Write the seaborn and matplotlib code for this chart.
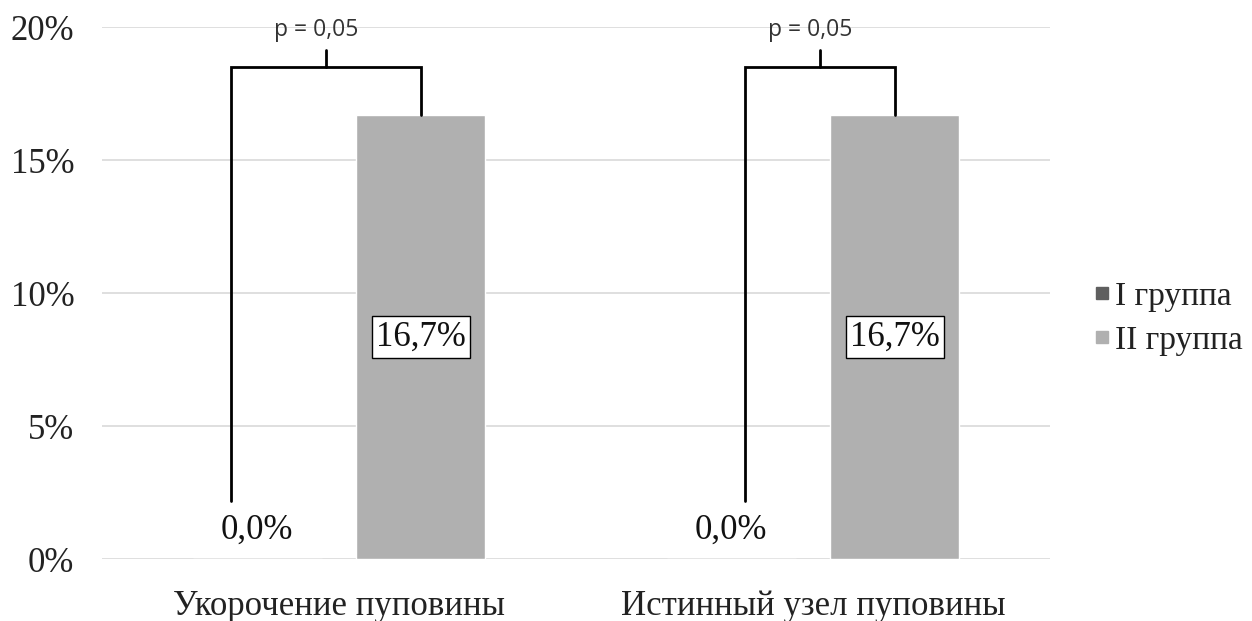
import numpy as np
import pandas as pd
import matplotlib
matplotlib.use("Agg")
import matplotlib.pyplot as plt
from matplotlib.lines import Line2D
from matplotlib.font_manager import FontProperties
from matplotlib.ticker import FuncFormatter
import seaborn as sns

# datos del gráfico
categorias = ["Укорочение пуповины", "Истинный узел пуповины"]
grupos = ["I группа", "II группа"]
valores_I = [0.0, 0.0]
valores_II = [16.7, 16.7]
p_textos = ["p = 0,05", "p = 0,05"]
colores = ["#5f5f5f", "#b0b0b0"]

df = pd.DataFrame({
    "categoria": categorias * 2,
    "grupo": [grupos[0]] * len(categorias) + [grupos[1]] * len(categorias),
    "valor": valores_I + valores_II,
})

sns.set_theme(style="white")
serif = ["Liberation Serif", "DejaVu Serif"]
plt.rcParams["font.family"] = serif

fig = plt.figure(figsize=(12.52, 6.21), dpi=100)
ax = fig.add_axes([0.0815, 0.0998, 0.7572, 0.8567])

sns.barplot(data=df, x="categoria", y="valor", hue="grupo", hue_order=grupos,
            palette=colores, width=0.69, gap=0.21, ax=ax, legend=False,
            saturation=1)

ax.set_xlim(-0.5, len(categorias) - 0.5)
ax.set_ylim(0, 20)
ax.set_yticks([0, 5, 10, 15, 20])
ax.yaxis.set_major_formatter(FuncFormatter(lambda v, _: f"{v:.0f}%"))
ax.grid(axis="y", color="#d9d9d9", linewidth=1.2)
ax.set_axisbelow(True)
for s in ax.spines.values():
    s.set_visible(False)
ax.set_xlabel("")
ax.set_ylabel("")
ax.tick_params(axis="y", length=0, pad=20, labelsize=25, labelcolor="#222222")
ax.tick_params(axis="x", length=0, pad=22, labelsize=25, labelcolor="#222222")

barras_I = ax.containers[0]
barras_II = ax.containers[1]

# posición de la pata izquierda del corchete dentro de la barra I (fracción)
pata_izq = [0.3, 0.61]

for i in range(len(categorias)):
    bI = barras_I[i]
    bII = barras_II[i]
    # etiquetas de valores
    xI = bI.get_x() + bI.get_width() / 2
    ax.annotate(f"{valores_I[i]:.1f}%".replace(".", ","), (xI, valores_I[i]),
                xytext=(0, 9), textcoords="offset points", ha="center",
                va="bottom", fontsize=25, color="#111111")
    xII = bII.get_x() + bII.get_width() / 2
    ax.text(xII, valores_II[i] / 2, f"{valores_II[i]:.1f}%".replace(".", ","),
            ha="center", va="center", fontsize=25, color="#111111",
            bbox=dict(facecolor="white", edgecolor="black", linewidth=1,
                      boxstyle="square,pad=0.12"))
    # corchete de significancia
    izq = bI.get_x() + pata_izq[i] * bI.get_width()
    der = xII
    tope = 18.5
    ax.plot([izq, izq, der, der], [2.2, tope, tope, valores_II[i]],
            color="black", linewidth=2, solid_joinstyle="miter")
    medio = (izq + der) / 2
    ax.plot([medio, medio], [tope, 19.15], color="black", linewidth=2)
    ax.text(medio - 0.02, 19.9, p_textos[i], ha="center", va="center",
            fontsize=16.5, color="#333333", family=["Open Sans", "DejaVu Sans"])

handles = [Line2D([], [], marker="s", linestyle="", markersize=9,
                  markerfacecolor=c, markeredgecolor=c) for c in colores]
leg = ax.legend(handles, grupos, loc="center left", bbox_to_anchor=(0.859, 0.487),
                bbox_transform=fig.transFigure, frameon=False,
                prop=FontProperties(family="Liberation Serif", size=24),
                handletextpad=0.1, handlelength=0.6,
                labelspacing=0.4, borderpad=0)
for t in leg.get_texts():
    t.set_color("#222222")

fig.savefig("out.png", dpi=100)
